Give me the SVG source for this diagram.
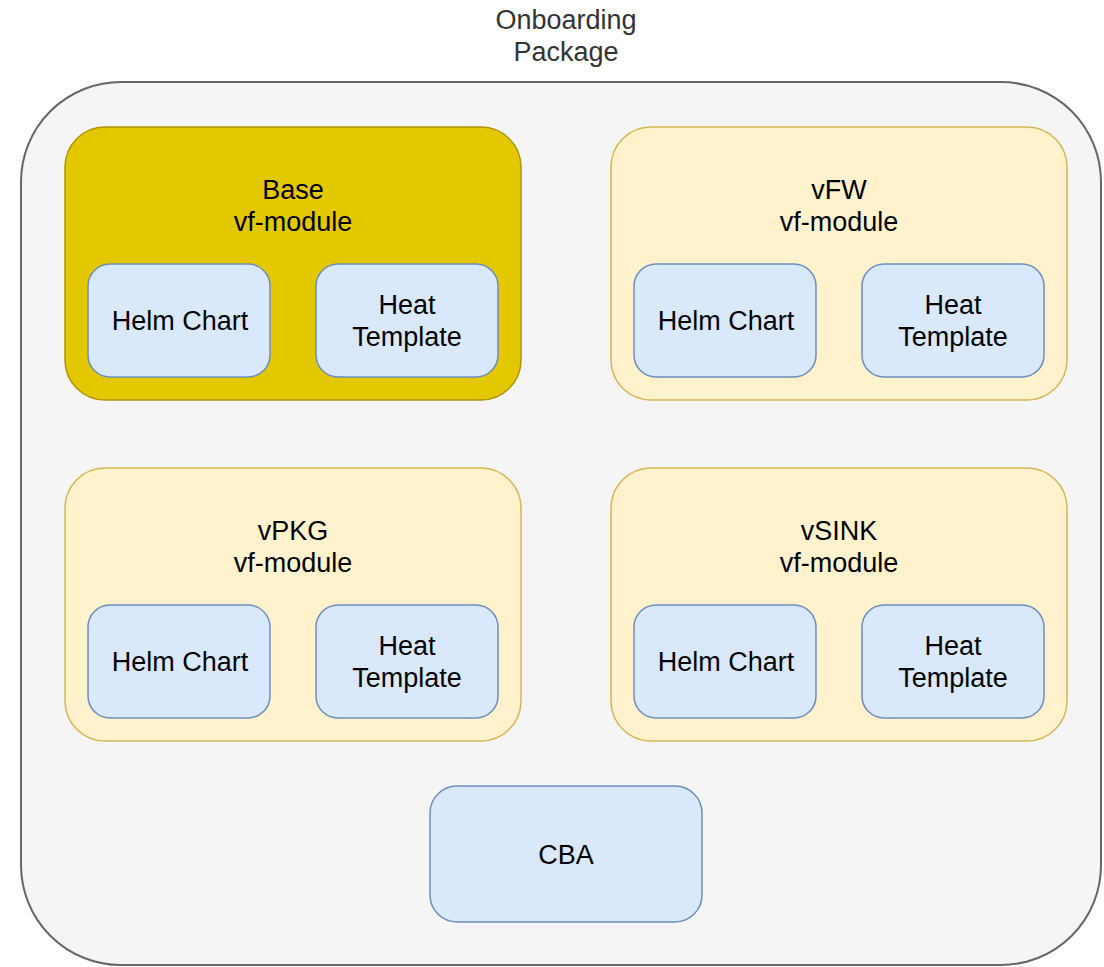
<svg xmlns="http://www.w3.org/2000/svg" width="1104" height="967" viewBox="0 0 1104 967">
<style>
text{font-family:"Liberation Sans",Arial,sans-serif;font-size:27px;text-anchor:middle;fill:#000}
.title{fill:#333}
.outer{fill:#f5f5f5;stroke:#666;stroke-width:2}
.base{fill:#e3c800;stroke:#b09500;stroke-width:1.5}
.mod{fill:#fff2cc;stroke:#d6b656;stroke-width:1.5}
.item{fill:#dae8fc;stroke:#6c8ebf;stroke-width:1.5}
</style>
<rect width="1104" height="967" fill="#fff"/>
<g id="package">
<rect class="outer" x="21" y="82" width="1080" height="883" rx="100" ry="100"/>
<text class="title" x="566" y="29">Onboarding</text>
<text class="title" x="566" y="61">Package</text>
</g>
<g id="base">
<rect class="base" x="65" y="127" width="456" height="273" rx="40" ry="40"/>
<text x="293" y="199">Base</text>
<text x="293" y="231">vf-module</text>
</g>
<g id="base-helm"><rect class="item" x="88" y="264" width="182" height="113" rx="22" ry="22"/><text x="180" y="330">Helm Chart</text></g>
<g id="base-heat"><rect class="item" x="316" y="264" width="182" height="113" rx="22" ry="22"/><text x="407" y="314">Heat</text><text x="407" y="346">Template</text></g>
<g id="vfw">
<rect class="mod" x="611" y="127" width="456" height="273" rx="40" ry="40"/>
<text x="839" y="199">vFW</text>
<text x="839" y="231">vf-module</text>
</g>
<g id="vfw-helm"><rect class="item" x="634" y="264" width="182" height="113" rx="22" ry="22"/><text x="726" y="330">Helm Chart</text></g>
<g id="vfw-heat"><rect class="item" x="862" y="264" width="182" height="113" rx="22" ry="22"/><text x="953" y="314">Heat</text><text x="953" y="346">Template</text></g>
<g id="vpkg">
<rect class="mod" x="65" y="468" width="456" height="273" rx="40" ry="40"/>
<text x="293" y="540">vPKG</text>
<text x="293" y="572">vf-module</text>
</g>
<g id="vpkg-helm"><rect class="item" x="88" y="605" width="182" height="113" rx="22" ry="22"/><text x="180" y="671">Helm Chart</text></g>
<g id="vpkg-heat"><rect class="item" x="316" y="605" width="182" height="113" rx="22" ry="22"/><text x="407" y="655">Heat</text><text x="407" y="687">Template</text></g>
<g id="vsink">
<rect class="mod" x="611" y="468" width="456" height="273" rx="40" ry="40"/>
<text x="839" y="540">vSINK</text>
<text x="839" y="572">vf-module</text>
</g>
<g id="vsink-helm"><rect class="item" x="634" y="605" width="182" height="113" rx="22" ry="22"/><text x="726" y="671">Helm Chart</text></g>
<g id="vsink-heat"><rect class="item" x="862" y="605" width="182" height="113" rx="22" ry="22"/><text x="953" y="655">Heat</text><text x="953" y="687">Template</text></g>
<g id="cba"><rect class="item" x="430" y="786" width="272" height="136" rx="27" ry="27"/><text x="566" y="864">CBA</text></g>
<g id="connectors"></g>
</svg>
